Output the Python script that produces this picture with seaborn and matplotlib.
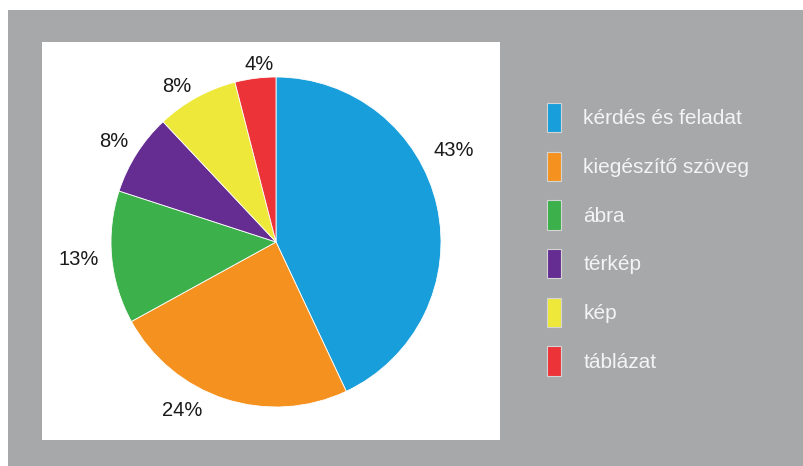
import matplotlib
matplotlib.use("Agg")
import matplotlib.pyplot as plt
from matplotlib.patches import Rectangle, Patch
import numpy as np
import seaborn as sns

# Data
categories = ["kérdés és feladat", "kiegészítő szöveg", "ábra", "térkép", "kép", "táblázat"]
shares = [43, 24, 13, 8, 8, 4]

# Style
hex_colors = ["#189edb", "#f5921f", "#3cb04a", "#652d91", "#ede83a", "#ec3338"]
label_shift = [14.7, -11.2, -0.2, 0.6, 3.8, -1.7]   # degrees off the wedge middle
label_dist = [1.21, 1.17, 1.20, 1.16, 1.12, 1.08]
bg_gray = "#a7a8aa"

sns.set_theme(style="white")
plt.rcParams["font.family"] = ["Liberation Sans", "DejaVu Sans"]
palette = sns.color_palette(hex_colors)

W, H = 804, 466
fig = plt.figure(figsize=(W / 100, H / 100), dpi=100)
fig.patch.set_facecolor("white")

# gray backdrop and white panel (pixel coords from the top left)
def px_rect(x0, y0, x1, y1, color, z):
    fig.patches.append(Rectangle((x0 / W, 1 - y1 / H), (x1 - x0) / W, (y1 - y0) / H,
                                 transform=fig.transFigure, facecolor=color,
                                 edgecolor="none", zorder=z))

px_rect(8, 10, W, H, bg_gray, -2)
px_rect(42, 42, 500, 440, "white", -1)

# pie axes covering the white panel
pl, pt, pr, pb = 42, 42, 500, 440
ax = fig.add_axes([pl / W, 1 - pb / H, (pr - pl) / W, (pb - pt) / H])
ax.patch.set_alpha(0)
cx, cy, R = 276, 242, 165

wedges, _ = ax.pie(shares, colors=palette, startangle=90, counterclock=False,
                   radius=1, wedgeprops=dict(edgecolor="white", linewidth=0.6))
ax.set_aspect("auto")
ax.set_xlim(-(cx - pl) / R, (pr - cx) / R)
ax.set_ylim(-(pb - cy) / R, (cy - pt) / R)
ax.axis("off")

for w, v, sh, d in zip(wedges, shares, label_shift, label_dist):
    ang = np.deg2rad((w.theta1 + w.theta2) / 2 + sh)
    ax.text(d * np.cos(ang), d * np.sin(ang), f"{v}%", ha="center", va="center",
            fontsize=14.5, color="#1a1a1a")

# legend
fs = 15
handles = [Patch(facecolor=c, edgecolor="#d4d4d4", linewidth=0.8) for c in palette]
fig.legend(handles, categories, loc="upper left",
           bbox_to_anchor=(547 / W, 1 - 103 / H), frameon=False,
           fontsize=fs, labelcolor="#f4f4f4",
           handlelength=0.65, handleheight=1.8, labelspacing=0.92,
           handletextpad=1.1, borderpad=0, borderaxespad=0)

fig.savefig("out.png", dpi=100, facecolor=fig.get_facecolor())
